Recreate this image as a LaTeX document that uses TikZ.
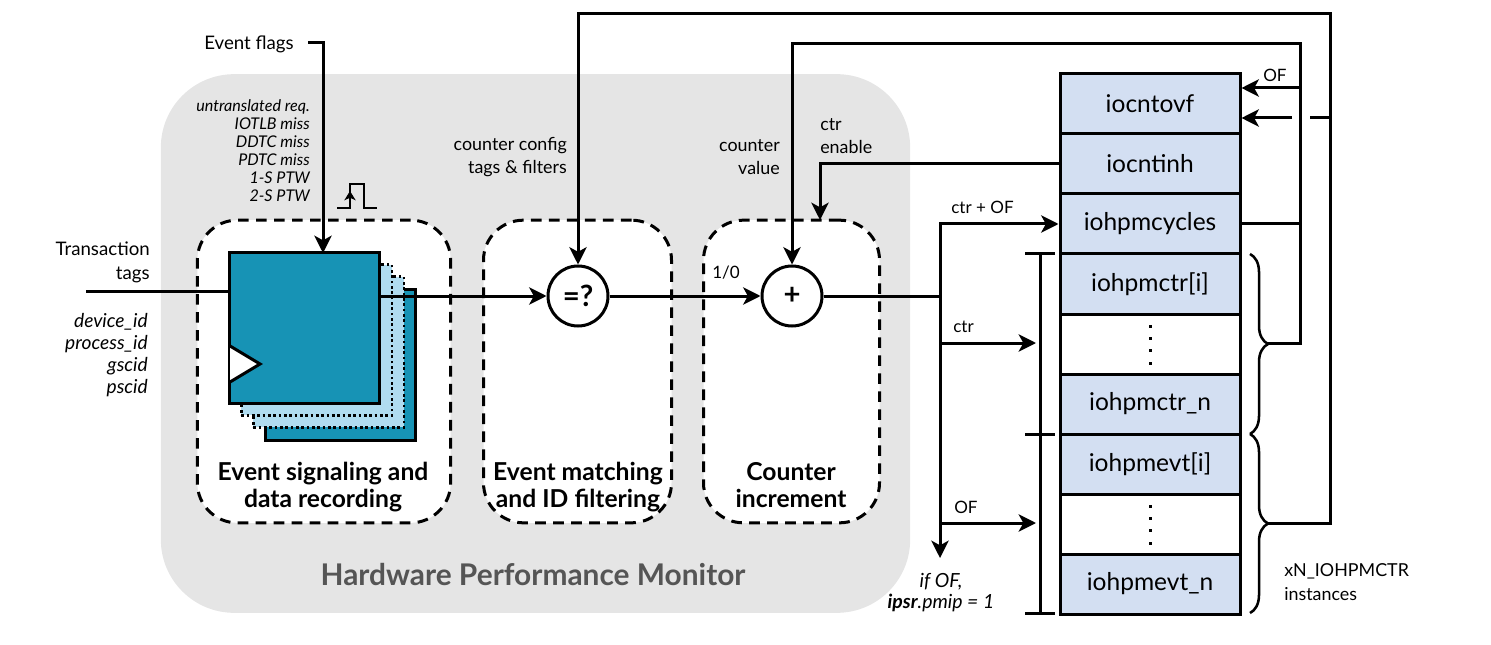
\documentclass[tikz,border=0pt]{standalone}
\usepackage{fontspec}
\setmainfont{Lato}
\usetikzlibrary{arrows.meta,decorations.pathreplacing}

\definecolor{hpmgrey}{HTML}{E5E5E5}
\definecolor{hpmtitle}{HTML}{555555}
\definecolor{ffteal}{HTML}{1793B5}
\definecolor{fflight}{HTML}{B0DCF0}
\definecolor{regblue}{HTML}{D3DFF2}

\begin{document}
\begin{tikzpicture}[
	x=0.75pt, y=-0.75pt,
	>={Stealth[length=13pt,width=13pt,inset=3.5pt]},
	wire/.style={line width=2.25pt},
	stage/.style={draw, dash pattern=on 8pt off 5.5pt, line width=2.25pt, fill=white, rounded corners=30pt, inner sep=0pt},
	ffbox/.style={draw, line width=2.25pt, fill=ffteal, minimum size=113pt, inner sep=0pt},
	ffghost/.style={draw, dash pattern=on 2pt off 2pt, line width=2pt, fill=fflight, minimum size=113pt, inner sep=0pt},
	cmp/.style={circle, draw, line width=2.25pt, fill=white, minimum size=45pt, inner sep=0pt, font=\fontsize{22}{24}\selectfont\bfseries},
	reg/.style={draw, line width=2.25pt, minimum width=135pt, minimum height=45pt, inner sep=0pt, font=\fontsize{18.4}{20}\selectfont},
	regfill/.style={reg, fill=regblue},
	txt/.style={inner sep=0pt, font=\fontsize{13.4}{17.5}\selectfont},
	txtr/.style={txt, anchor=east, align=right},
	txtl/.style={txt, anchor=west, align=left},
	wlabel/.style={txtl, font=\fontsize{12.8}{15}\selectfont},
	small/.style={inner sep=0pt, anchor=east, align=right, font=\fontsize{12.1}{13.5}\selectfont\itshape},
	stagename/.style={inner sep=0pt, align=center, font=\fontsize{18.5}{20.2}\selectfont\bfseries},
	]
	
	\useasboundingbox (0,0) rectangle (1491,645);
	
	%-----------------------
	% Customizable heights
	%-----------------------
	\def\hpath{296}   % main datapath
	\def\hname{487}   % stage names
	
	%-----------------------
	% Background and stages
	%-----------------------
	\node[fill=hpmgrey, rounded corners=55pt, minimum width=562pt, minimum height=404pt, inner sep=0pt] (hpm) at (535.5,343.5) {};
	\node[stage, minimum width=190pt, minimum height=227pt] (stageA) at (324,371.5) {};
	\node[stage, minimum width=141pt, minimum height=227pt] (stageB) at (577.5,371.5) {};
	\node[stage, minimum width=132pt, minimum height=227pt] (stageC) at (791.5,371.5) {};
	
	\node[inner sep=0pt, text=hpmtitle, font=\fontsize{22.4}{24}\selectfont\bfseries] (hpmname) at (533,575) {Hardware Performance Monitor};
	\node[stagename] (nameA) at (323,\hname) {Event signaling and\\data recording};
	\node[stagename] (nameB) at (578,\hname) {Event matching\\and ID filtering};
	\node[stagename] (nameC) at (791,485) {Counter\\increment};
	
	%-----------------------
	% Event recording stack
	%-----------------------
	\node[ffbox] (ff3) at (340.5,365) {};
	\node[ffghost] (ff2) at (328.5,352) {};
	\node[ffghost] (ff1) at (316.5,340) {};
	\node[ffbox] (ff) at (304.5,328) {};
	\draw[line width=2.25pt, fill=white, line join=miter] (230,346) -- (260,364) -- (230,382);
	
	%-----------------------
	% Comparator and adder
	%-----------------------
	\node[cmp] (eq) at (578,\hpath) {=?};
	\node[cmp] (add) at (792,\hpath) {+};
	
	%-----------------------
	% Registers
	%-----------------------
	\node[regfill] (iocntovf) at (1150,104) {iocntovf};
	\node[regfill] (iocntinh) at (1150,164) {iocntinh};
	\node[regfill] (iohpmcycles) at (1150,224) {iohpmcycles};
	\node[regfill] (ctri) at (1150,284) {iohpmctr[i]};
	\node[reg] (ctrgap) at (1150,344) {};
	\node[regfill] (ctrn) at (1150,404) {iohpmctr\_n};
	\node[regfill] (evti) at (1150,464) {iohpmevt[i]};
	\node[reg] (evtgap) at (1150,524) {};
	\node[regfill] (evtn) at (1150,584) {iohpmevt\_n};
	
	% dots in the empty registers
	\fill (1148.5,324.5) rectangle ++(3,3);
	\fill (1148.5,336.5) rectangle ++(3,3);
	\fill (1148.5,348.5) rectangle ++(3,3);
	\fill (1148.5,361.5) rectangle ++(3,3);
	\fill (1148.5,504.5) rectangle ++(3,3);
	\fill (1148.5,516.5) rectangle ++(3,3);
	\fill (1148.5,528.5) rectangle ++(3,3);
	\fill (1148.5,541.5) rectangle ++(3,3);
	
	%-----------------------
	% Labels
	%-----------------------
	\node[txtr, font=\fontsize{14}{17.5}\selectfont] (flags) at (294,44) {Event flags};
	\node[small] (flaglist) at (310,151) {untranslated req.\\IOTLB miss\\DDTC miss\\PDTC miss\\1-S PTW\\2-S PTW};
	\node[txtr, font=\fontsize{14}{18}\selectfont] (txtags) at (150,262) {Transaction\\tags};
	\node[txtr, font=\fontsize{14.4}{16.7}\selectfont\itshape] (txlist) at (148,355) {device\_id\\process\_id\\gscid\\pscid};
	\node[txtr] (cfgtags) at (567,157) {counter config\\tags \& filters};
	\node[txtr] (cntval) at (780,157) {counter\\value};
	\node[txtl] (ctren) at (820,136) {ctr\\enable};
	\node[wlabel] (onezero) at (712,273) {1/0};
	\node[wlabel] (ctrof) at (951,207) {ctr + OF};
	\node[wlabel] (ctrlbl) at (953,327) {ctr};
	\node[wlabel] (oflbl) at (954,507) {OF};
	\node[wlabel] (ovflbl) at (1263,75) {OF};
	\node[txt, align=center, font=\fontsize{14.6}{15.8}\selectfont\itshape] (ifof) at (941,593) {if OF,\\\textbf{ipsr}.pmip = 1};
	\node[txtl] (xn) at (1284,582) {xN\_IOHPMCTR\\instances};
	
	%-----------------------
	% Connection points
	%-----------------------
	\coordinate (txin) at (86,291);
	\coordinate (flagout) at (308,43);
	\coordinate (flagin) at (323,253);
	\coordinate (split) at (940,\hpath);
	\coordinate (irq) at (940,558);
	\coordinate (barT) at (1040,254);
	\coordinate (barM) at (1040,434);
	\coordinate (barB) at (1040,613);
	\coordinate (brTT) at (1250,254);
	\coordinate (brTB) at (1250,434);
	\coordinate (brBB) at (1250,613);
	\coordinate (tipT) at (1268,343);
	\coordinate (tipB) at (1268,523);
	\coordinate (railA) at (1300,44);
	\coordinate (railB) at (1330,14);
	\coordinate (enin) at (820,220);
	\coordinate (hopA) at (1292,118);
	\coordinate (hopB) at (1310,118);
	
	%-----------------------
	% Pulse symbol
	%-----------------------
	\draw[line width=1.7pt] (337,208) -- (350,208) -- (350,184) -- (364,184) -- (364,208) -- (377,208);
	\draw[line width=1.7pt, -{Stealth[length=7pt,width=8.5pt,inset=2pt]}] (350,208) -- (350,191);
	
	%-----------------------
	% Connections
	%-----------------------
	% Inputs -> recording stack
	\draw[wire] (txin) -- (txin -| ff.west);
	\draw[wire, ->] (flagout) -| (flagin);
	
	% Main datapath
	\draw[wire, ->] (ff.east |- eq.west) -- (eq.west);
	\draw[wire, ->] (eq.east) -- (add.west);
	\draw[wire] (add.east) -- (split);
	
	% Counter output fan-out
	\draw[wire, ->] (split) -- (irq);
	\draw[wire, ->] (split) |- (iohpmcycles.west);
	\draw[wire, ->] (split |- tipT) -- (1036,343);
	\draw[wire, ->] (split |- tipB) -- (1036,523);
	
	% Counter register bus
	\draw[wire] (barT) -- (barB);
	\draw[wire] (1025,254) -- (1055,254);
	\draw[wire] (1025,434) -- (1055,434);
	\draw[wire] (1025,613) -- (1055,613);
	
	% Braces -> feedback rails
	\draw[line width=1.9pt, decorate, decoration={brace, amplitude=13.5pt}] (brTT) -- (brTB);
	\draw[line width=1.9pt, decorate, decoration={brace, amplitude=13.5pt}] (brTB) -- (brBB);
	\draw[wire, ->] (tipT) -| (railA) -| (add.north);
	\draw[wire, ->] (tipB) -| (railB) -| (eq.north);
	\draw[wire] (iohpmcycles.east) -- (iohpmcycles.east -| railA);
	
	% Rails -> iocntovf
	\draw[wire, ->] (iocntovf.east |- 0,88) ++(60,0) -- (iocntovf.east |- 0,88);
	\draw[wire] (railB |- hopB) -- (hopB);
	\draw[wire, ->] (hopA) -- (hopA -| iocntovf.east);
	
	% iocntinh -> counter stage
	\draw[wire, ->] (iocntinh.west) -| (enin);
	
\end{tikzpicture}
\end{document}
